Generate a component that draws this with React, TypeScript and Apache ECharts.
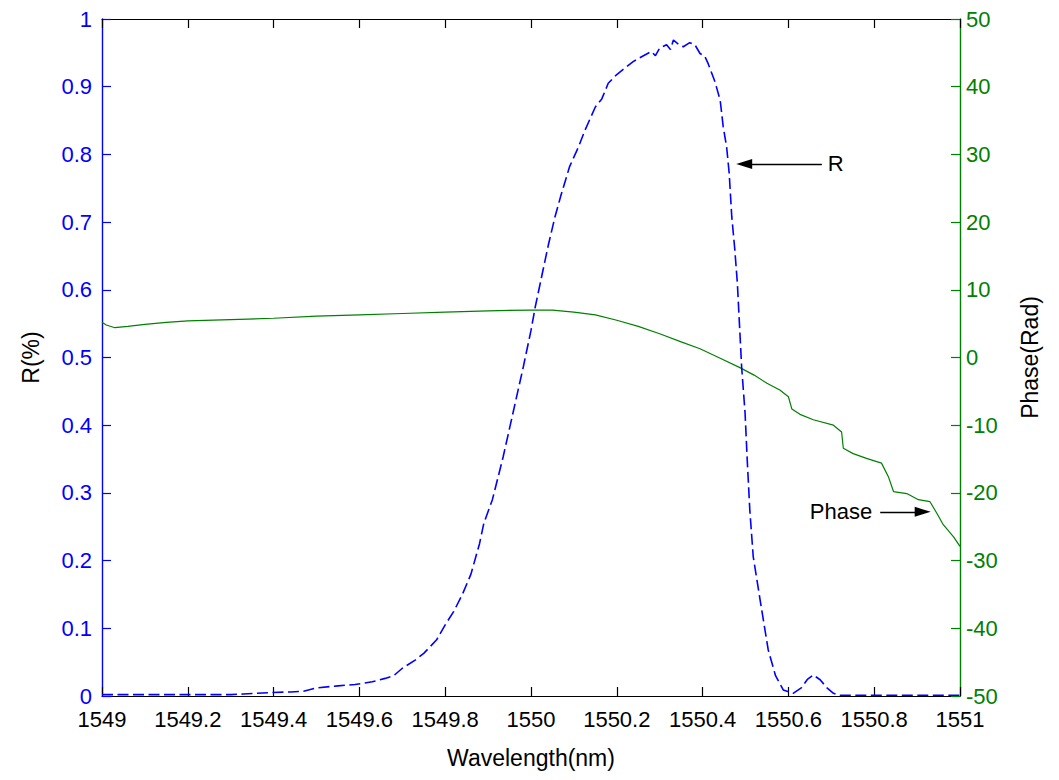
import React, { useEffect, useRef } from "react";
import * as echarts from "echarts";

// Reflectivity R (left axis)
const rWavelength = [
  1549.0, 1549.1, 1549.2, 1549.3, 1549.33, 1549.36, 1549.39, 1549.44, 1549.47, 1549.5,
  1549.55, 1549.59, 1549.63, 1549.66, 1549.68, 1549.7, 1549.73, 1549.75, 1549.78, 1549.8,
  1549.82, 1549.84, 1549.86, 1549.88, 1549.89, 1549.91, 1549.935, 1549.958, 1549.982, 1550.0,
  1550.01, 1550.025, 1550.04, 1550.056, 1550.07, 1550.09, 1550.11, 1550.126, 1550.15, 1550.165,
  1550.18, 1550.2, 1550.22, 1550.238, 1550.26, 1550.28, 1550.29, 1550.3, 1550.316, 1550.325,
  1550.332, 1550.345, 1550.355, 1550.37, 1550.382, 1550.394, 1550.405, 1550.413, 1550.429, 1550.441,
  1550.448, 1550.456, 1550.462, 1550.468, 1550.475, 1550.481, 1550.491, 1550.499, 1550.504, 1550.51,
  1550.518, 1550.534, 1550.553, 1550.57, 1550.588, 1550.611, 1550.63, 1550.645, 1550.658, 1550.674,
  1550.69, 1550.705, 1550.72, 1550.8, 1550.9, 1551.0,
];
const rValues = [
  0.002, 0.002, 0.002, 0.002, 0.003, 0.004, 0.005, 0.006, 0.007, 0.012,
  0.015, 0.017, 0.021, 0.026, 0.03, 0.041, 0.053, 0.063, 0.083, 0.105,
  0.125, 0.15, 0.18, 0.225, 0.255, 0.29, 0.353, 0.418, 0.486, 0.54,
  0.575, 0.62, 0.665, 0.708, 0.74, 0.782, 0.81, 0.836, 0.87, 0.882,
  0.905, 0.918, 0.928, 0.937, 0.945, 0.952, 0.946, 0.957, 0.962, 0.955,
  0.969, 0.962, 0.959, 0.965, 0.962, 0.949, 0.945, 0.934, 0.907, 0.88,
  0.841, 0.811, 0.772, 0.708, 0.66, 0.61, 0.486, 0.418, 0.349, 0.275,
  0.206, 0.142, 0.068, 0.03, 0.009, 0.004, 0.012, 0.025, 0.031, 0.024,
  0.012, 0.004, 0.001, 0.001, 0.001, 0.001,
];

// Phase (right axis)
const phaseWavelength = [
  1549.0, 1549.01, 1549.03, 1549.06, 1549.1, 1549.15, 1549.2, 1549.3, 1549.4, 1549.5,
  1549.6, 1549.7, 1549.8, 1549.9, 1550.0, 1550.05, 1550.1, 1550.15, 1550.2, 1550.25,
  1550.3, 1550.35, 1550.394, 1550.441, 1550.487, 1550.52, 1550.55, 1550.58, 1550.6, 1550.608,
  1550.627, 1550.658, 1550.705, 1550.724, 1550.728, 1550.751, 1550.782, 1550.817, 1550.833, 1550.845,
  1550.876, 1550.903, 1550.93, 1550.946, 1550.961, 1550.985, 1551.0,
];
const phaseValues = [
  5.2, 4.8, 4.4, 4.6, 4.9, 5.2, 5.4, 5.6, 5.8, 6.1,
  6.3, 6.5, 6.7, 6.9, 7.0, 7.0, 6.7, 6.3, 5.5, 4.6,
  3.5, 2.3, 1.3, -0.1, -1.5, -2.6, -3.8, -4.8, -5.8, -7.6,
  -8.4, -9.2, -10.0, -11.0, -13.4, -14.2, -14.9, -15.6, -17.6, -19.8,
  -20.1, -21.0, -21.3, -23.0, -24.7, -26.5, -27.9,
];

// Annotation arrows (data coordinates)
const rArrow = { from: [1550.678, 0.786], to: [1550.497, 0.786], label: "R" };
const phaseArrow = { from: [1550.814, -22.8], to: [1550.913, -22.8], label: "Phase" };

const X_MIN = 1549;
const X_MAX = 1551;
const X_STEP = 0.2;

const FONT = "'Liberation Sans', Arial, sans-serif";
const BLUE = "#0000ff";
const GREEN = "#008000";

export default function App() {
  const ref = useRef<HTMLDivElement>(null);

  useEffect(() => {
    if (!ref.current) return;
    const chart = echarts.init(ref.current, null, { renderer: "svg" });
    const fmt1 = (v: number) => String(+v.toFixed(1));
    const tick = { show: true, inside: true, length: 9 };

    chart.setOption({
      animation: false,
      backgroundColor: "#ffffff",
      textStyle: { fontFamily: FONT },
      grid: { left: 102, right: 99, top: 19, bottom: 84, containLabel: false },
      xAxis: [
        {
          type: "value",
          min: X_MIN,
          max: X_MAX,
          interval: X_STEP,
          position: "bottom",
          name: "Wavelength(nm)",
          nameLocation: "middle",
          nameGap: 50,
          nameTextStyle: { color: "#000", fontSize: 23, fontFamily: FONT },
          axisLine: { show: true, onZero: false, lineStyle: { color: "#000", width: 1.2 } },
          axisTick: { ...tick, lineStyle: { color: "#000", width: 1.2 } },
          axisLabel: { color: "#000", fontSize: 22, lineHeight: 20, margin: 13, fontFamily: FONT, formatter: fmt1 },
          splitLine: { show: false },
        },
        {
          type: "value",
          min: X_MIN,
          max: X_MAX,
          interval: X_STEP,
          position: "top",
          axisLine: { show: true, onZero: false, lineStyle: { color: "#000", width: 1.2 } },
          axisTick: { ...tick, lineStyle: { color: "#000", width: 1.2 } },
          axisLabel: { show: false },
          splitLine: { show: false },
        },
      ],
      yAxis: [
        {
          type: "value",
          min: 0,
          max: 1,
          interval: 0.1,
          position: "left",
          name: "R(%)",
          nameLocation: "middle",
          nameGap: 60,
          nameRotate: 90,
          nameTextStyle: { color: "#000", fontSize: 23, fontFamily: FONT },
          axisLine: { show: true, onZero: false, lineStyle: { color: BLUE, width: 1.4 } },
          axisTick: { ...tick, lineStyle: { color: BLUE, width: 1.2 } },
          axisLabel: { color: BLUE, fontSize: 22, lineHeight: 20, margin: 10, fontFamily: FONT, formatter: fmt1 },
          splitLine: { show: false },
        },
        {
          type: "value",
          min: -50,
          max: 50,
          interval: 10,
          position: "right",
          name: "Phase(Rad)",
          nameLocation: "middle",
          nameGap: 58,
          nameRotate: 90,
          nameTextStyle: { color: "#000", fontSize: 23, fontFamily: FONT },
          axisLine: { show: true, onZero: false, lineStyle: { color: GREEN, width: 1.4 } },
          axisTick: { ...tick, lineStyle: { color: GREEN, width: 1.2 } },
          axisLabel: { color: GREEN, fontSize: 22, lineHeight: 20, margin: 6, fontFamily: FONT },
          splitLine: { show: false },
        },
      ],
      series: [
        {
          name: "R",
          type: "line",
          xAxisIndex: 0,
          yAxisIndex: 0,
          data: rWavelength.map((x, i) => [x, rValues[i]]),
          showSymbol: false,
          symbol: "none",
          lineStyle: { color: BLUE, width: 1.6, type: [11, 4.5] },
          z: 3,
          markLine: {
            silent: true,
            animation: false,
            symbol: ["none", "triangle"],
            symbolSize: [10, 16],
            lineStyle: { color: "#000", width: 1.4, type: "solid" },
            label: {
              show: true,
              position: "start",
              formatter: rArrow.label,
              color: "#000",
              fontSize: 22,
              fontFamily: FONT,
              distance: 6,
            },
            data: [[{ coord: rArrow.from }, { coord: rArrow.to }]],
          },
        },
        {
          name: "Phase",
          type: "line",
          xAxisIndex: 0,
          yAxisIndex: 1,
          data: phaseWavelength.map((x, i) => [x, phaseValues[i]]),
          showSymbol: false,
          symbol: "none",
          lineStyle: { color: GREEN, width: 1.2 },
          z: 2,
          markLine: {
            silent: true,
            animation: false,
            symbol: ["none", "triangle"],
            symbolSize: [10, 16],
            lineStyle: { color: "#000", width: 1.4, type: "solid" },
            label: {
              show: true,
              position: "start",
              formatter: phaseArrow.label,
              color: "#000",
              fontSize: 22,
              fontFamily: FONT,
              distance: 8,
            },
            data: [[{ coord: phaseArrow.from }, { coord: phaseArrow.to }]],
          },
        },
      ],
    });

    return () => chart.dispose();
  }, []);

  return (
    <div
      ref={ref}
      style={{ position: "fixed", left: 0, top: 0, width: 1059, height: 780, background: "#fff" }}
    />
  );
}
